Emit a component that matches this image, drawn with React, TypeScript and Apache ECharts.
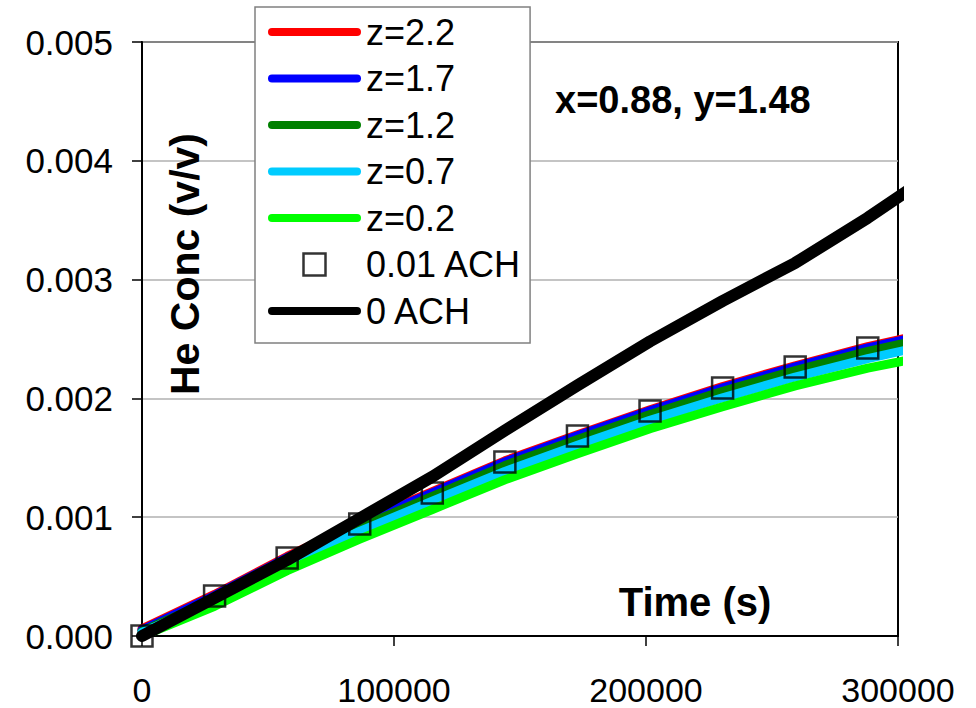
import React, { useEffect, useRef } from "react";
import * as echarts from "echarts";

const FONT = "'Liberation Sans', Arial, sans-serif";

// Time (s)
const times = [0, 28800, 57600, 86400, 115200, 144000, 172800, 201600, 230400, 259200, 288000, 306000];
const ach001Times = [0, 28800, 57600, 86400, 115200, 144000, 172800, 201600, 230400, 259200, 288000];

// He concentration (v/v)
const z22 = [0.00006, 0.00035, 0.00067, 0.000955, 0.001215, 0.001475, 0.001695, 0.001905, 0.0021, 0.002275, 0.002435, 0.00252];
const z17 = [0.00005, 0.00034, 0.00066, 0.000945, 0.001205, 0.001465, 0.001685, 0.001895, 0.00209, 0.002265, 0.002425, 0.00251];
const z12 = [0.00004, 0.00031, 0.00063, 0.000915, 0.001175, 0.001435, 0.001655, 0.001865, 0.00206, 0.002235, 0.002395, 0.00248];
const z07 = [0.00003, 0.000295, 0.000605, 0.00088, 0.001135, 0.001385, 0.001605, 0.001815, 0.002005, 0.00218, 0.002335, 0.00242];
const z02 = [0.0, 0.00025, 0.00055, 0.000815, 0.001065, 0.001315, 0.001535, 0.001745, 0.00193, 0.002105, 0.002255, 0.00233];
const ach001 = [0.0, 0.000337, 0.000657, 0.000943, 0.001204, 0.001465, 0.001684, 0.001894, 0.002088, 0.002264, 0.002424];
const ach0 = [0.0, 0.00032, 0.00064, 0.00099, 0.00134, 0.00173, 0.00211, 0.00248, 0.00282, 0.00314, 0.00352, 0.00378];

const seriesNames = ["z=2.2", "z=1.7", "z=1.2", "z=0.7", "z=0.2", "0.01 ACH", "0 ACH"];
const lineColors = ["#FF0000", "#0000FF", "#008000", "#00CCFF", "#00FF00"];

const annotation = "x=0.88, y=1.48";
const xTitle = "Time (s)";
const yTitle = "He Conc (v/v)";

const pairs = (xs: number[], ys: number[]) => ys.map((v, i) => [xs[i], v]);

const LINE_ICON = "path://M4,0 H89 A4,4 0 0 1 89,8 H4 A4,4 0 0 1 4,0 Z";
const SQUARE_ICON = "path://M0,0 H10 V10 H0 Z";

export default function App() {
  const ref = useRef<HTMLDivElement>(null);
  useEffect(() => {
    if (!ref.current) return;
    const chart = echarts.init(ref.current, undefined, { renderer: "svg" });
    const zData = [z22, z17, z12, z07, z02];
    const lineSeries = zData.map((d, i) => ({
      name: seriesNames[i],
      type: "line",
      data: pairs(times, d),
      symbol: "none",
      clip: false,
      z: 2,
      lineStyle: { color: lineColors[i], width: 9, cap: "round", join: "round" },
      itemStyle: { color: lineColors[i] },
    }));
    const legendData = [
      ...lineColors.map((c, i) => ({ name: seriesNames[i], icon: LINE_ICON, itemStyle: { color: c, borderWidth: 0 } })),
      { name: seriesNames[5], icon: SQUARE_ICON, itemStyle: { color: "rgba(0,0,0,0)", borderColor: "#000", borderWidth: 2.5 } },
      { name: seriesNames[6], icon: LINE_ICON, itemStyle: { color: "#000", borderWidth: 0 } },
    ];
    chart.setOption({
      animation: false,
      backgroundColor: "#fff",
      textStyle: { fontFamily: FONT },
      grid: { left: 142, right: 78, top: 42, bottom: 72, show: true, borderColor: "#000", borderWidth: 2, backgroundColor: "transparent" },
      legend: {
        orient: "vertical",
        left: 255,
        top: 7,
        itemWidth: 93,
        itemHeight: 22,
        itemGap: 10.5,
        padding: [7, 8, 14, 13],
        backgroundColor: "#fff",
        borderColor: "#808080",
        borderWidth: 1.5,
        symbolKeepAspect: true,
        textStyle: { fontSize: 36, color: "#000", fontFamily: FONT },
        data: legendData,
      },
      xAxis: {
        type: "value",
        min: 0,
        max: 300000,
        interval: 100000,
        splitLine: { show: false },
        axisLine: { lineStyle: { color: "#000", width: 2 } },
        axisTick: { length: 10, lineStyle: { color: "#000", width: 1.5 } },
        axisLabel: { fontSize: 34, lineHeight: 34, color: "#000", margin: 37, fontFamily: FONT, formatter: (v: number) => String(v) },
      },
      yAxis: {
        type: "value",
        min: 0,
        max: 0.005,
        interval: 0.001,
        splitLine: { lineStyle: { color: "#b0b0b0", width: 1.5 } },
        axisLine: { show: true, lineStyle: { color: "#000", width: 2 } },
        axisTick: { show: true, length: 10, lineStyle: { color: "#000", width: 1.5 } },
        axisLabel: { fontSize: 35, color: "#000", margin: 29, fontFamily: FONT, formatter: (v: number) => v.toFixed(3) },
      },
      graphic: [
        {
          type: "text",
          x: 555,
          y: 100,
          style: { text: annotation, fill: "#000", font: `bold 38px ${FONT}`, verticalAlign: "middle" },
          z: 10,
        },
        {
          type: "text",
          x: 695,
          y: 602,
          style: { text: xTitle, fill: "#000", font: `bold 40px ${FONT}`, align: "center", verticalAlign: "middle" },
          z: 10,
        },
        {
          type: "text",
          x: 185,
          y: 264,
          rotation: Math.PI / 2,
          style: { text: yTitle, fill: "#000", font: `bold 41px ${FONT}`, align: "center", verticalAlign: "middle" },
          z: 10,
        },
      ],
      series: [
        ...lineSeries,
        {
          name: seriesNames[5],
          type: "scatter",
          data: pairs(ach001Times, ach001),
          symbol: "rect",
          symbolSize: 21,
          clip: false,
          z: 3,
          itemStyle: { color: "rgba(0,0,0,0)", borderColor: "#000", borderWidth: 2.5 },
        },
        {
          name: seriesNames[6],
          type: "line",
          data: pairs(times, ach0),
          symbol: "none",
          clip: false,
          z: 4,
          lineStyle: { color: "#000", width: 12, cap: "round", join: "round" },
          itemStyle: { color: "#000" },
        },
      ],
    });
    return () => chart.dispose();
  }, []);
  return <div ref={ref} style={{ position: "fixed", left: 0, top: 0, width: 976, height: 708 }} />;
}
